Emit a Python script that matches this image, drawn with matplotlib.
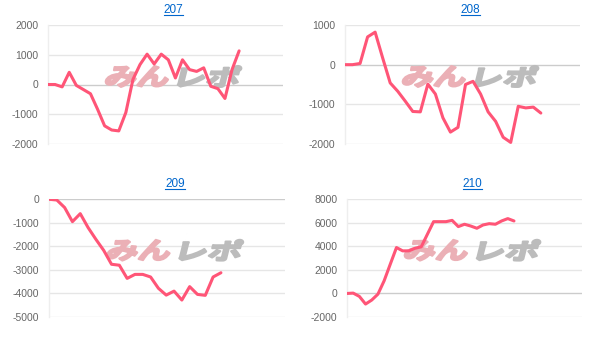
import matplotlib
matplotlib.use("Agg")
import matplotlib.pyplot as plt
from matplotlib.lines import Line2D
from matplotlib.textpath import TextPath
from matplotlib.patches import PathPatch
from matplotlib.font_manager import FontProperties
from matplotlib.transforms import Affine2D

plt.rcParams['font.family'] = ['Liberation Sans', 'DejaVu Sans']

# machine numbers
titles = ['207', '208', '209', '210']

# cumulative difference per game slot
vals_207 = [0, 0, -80, 410, -30, -170, -310, -830, -1390, -1530, -1560, -940,
            170, 670, 1020, 690, 1020, 830, 220, 830, 500, 440, 560, -60,
            -140, -470, 500, 1130]
vals_208 = [0, 0, 30, 700, 820, 170, -460, -670, -920, -1180, -1190, -490,
            -740, -1340, -1700, -1580, -500, -420, -740, -1190, -1430, -1830,
            -1960, -1050, -1090, -1070, -1220]
vals_209 = [0, -30, -350, -950, -610, -1200, -1700, -2170, -2760, -2800,
            -3360, -3190, -3190, -3300, -3780, -4070, -3900, -4280, -3710,
            -4040, -4080, -3300, -3120]
vals_210 = [0, 30, -250, -900, -560, -60, 1070, 2490, 3900, 3620, 3620, 3840,
            3960, 5030, 6100, 6100, 6100, 6210, 5680, 5880, 5730, 5540, 5820,
            5930, 5880, 6160, 6360, 6160]
series = [vals_207, vals_208, vals_209, vals_210]

# width of the x axis in slots
x_slots = [33.2, 31.2, 30.2, 38.0]

yticks = [
    [-2000, -1000, 0, 1000, 2000],
    [-2000, -1000, 0, 1000],
    [-5000, -4000, -3000, -2000, -1000, 0],
    [-2000, 0, 2000, 4000, 6000, 8000],
]

W, H = 608, 342
fig = plt.figure(figsize=(W / 100, H / 100), dpi=100)

# plot boxes in pixels: left, right, top, bottom
boxes = [
    (48, 283, 25, 144),
    (345, 580, 25, 144),
    (49, 285, 199.3, 317),
    (347, 582, 199.3, 317),
]

line_color = '#ff5577'
logo_font = FontProperties(family='Noto Sans CJK JP', weight='bold')


def logo_part(ax, s, x0, y0, x1, y1, color):
    # wide, slanted text drawn as a path, box given in axes fractions
    tp = TextPath((0, 0), s, size=1, prop=logo_font)
    ext = tp.get_extents()
    px0, py0 = ax.transAxes.transform((x0, y0))
    px1, py1 = ax.transAxes.transform((x1, y1))
    h = py1 - py0
    slant = 0.25 * h
    tr = (Affine2D().translate(-ext.x0, -ext.y0)
          .scale((px1 - px0 - slant) / ext.width, h / ext.height)
          .skew_deg(14, 0)
          .translate(px0, py0))
    ax.add_patch(PathPatch(tr.transform_path(tp), facecolor=color, edgecolor=color,
                           lw=1.6, joinstyle='round', transform=Affine2D(), zorder=2))


title_texts = []

for i in range(4):
    l, r, t, b = boxes[i]
    ax = fig.add_axes([l / W, 1 - b / H, (r - l) / W, (b - t) / H])
    ys = series[i]
    ax.plot(range(len(ys)), ys, color=line_color, lw=2.2, solid_joinstyle='round',
            solid_capstyle='round', zorder=3)
    ax.set_xlim(0, x_slots[i])
    ax.set_ylim(yticks[i][0], yticks[i][-1])
    ax.set_yticks(yticks[i])
    ax.set_yticklabels([str(v) for v in yticks[i]])
    ax.set_xticks([])
    for v in yticks[i]:
        ax.axhline(v, color='#cccccc' if v == 0 else '#e6e6e6', lw=1, zorder=1)
    for s in ['top', 'right', 'bottom']:
        ax.spines[s].set_visible(False)
    ax.spines['left'].set_color('#eeeeee')
    ax.spines['left'].set_linewidth(1)
    ax.tick_params(axis='y', length=0, pad=7, labelsize=7.5, labelcolor='#666666')
    ax.patch.set_alpha(0)

    # watermark logo
    logo_part(ax, 'みん', 0.24, 0.48, 0.525, 0.655, '#ebb0b6')
    logo_part(ax, 'レポ', 0.55, 0.48, 0.825, 0.655, '#bcbcbc')

    cx = (l + r) / 2 + 8
    tt = fig.text(cx / W, 1 - (t - 15) / H, titles[i],
                  ha='center', va='center', fontsize=8.5, color='#0066cc')
    title_texts.append(tt)

# underline the titles like links
fig.canvas.draw()
renderer = fig.canvas.get_renderer()
for tt in title_texts:
    bb = tt.get_window_extent(renderer)
    y0 = (bb.y0 + 1) / H
    fig.add_artist(Line2D([bb.x0 / W, bb.x1 / W], [y0, y0],
                          color='#0066cc', lw=0.8, transform=fig.transFigure))

fig.savefig('out.png', dpi=100)
